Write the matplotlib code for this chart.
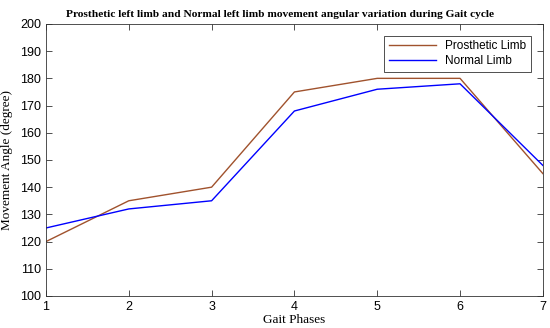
import matplotlib
matplotlib.use("Agg")
import matplotlib.pyplot as plt

phases = [1, 2, 3, 4, 5, 6, 7]
prosthetic = [120, 135, 140, 175, 180, 180, 145]
normal = [125, 132, 135, 168, 176, 178, 148]

fig = plt.figure(figsize=(5.5, 3.28), dpi=100)
ax = fig.add_axes([0.0836, 0.0976, 0.9034, 0.8294])
ax.plot(phases, prosthetic, color="#A0522D", lw=1.0, label="Prosthetic Limb")
ax.plot(phases, normal, color="#0000FF", lw=1.0, label="Normal Limb")
ax.set_xlim(1, 7)
ax.set_ylim(100, 200)
ax.set_xticks(phases)
ax.set_yticks(range(100, 201, 10))
ax.tick_params(direction="in", top=True, right=True, labelsize=9, length=4, width=0.6, color="#333333")
for lab in ax.get_xticklabels() + ax.get_yticklabels():
    lab.set_fontfamily("Liberation Sans")
for s in ax.spines.values():
    s.set_linewidth(0.6)
    s.set_color("#333333")
ax.set_xlabel("Gait Phases", fontfamily="Liberation Serif", fontsize=9.5, labelpad=1)
ax.set_ylabel("Movement Angle (degree)", fontfamily="Liberation Serif", fontsize=9.5, labelpad=5)
ax.set_title("Prosthetic left limb and Normal left limb movement angular variation during Gait cycle",
             fontfamily="Liberation Serif", fontweight="bold", fontsize=8.2, pad=5, x=0.47)
leg = ax.legend(loc="upper right", prop={"family": "Liberation Sans", "size": 8.5},
                fancybox=False, framealpha=1, edgecolor="#333333",
                borderaxespad=1.0, handlelength=4, labelspacing=0.2)
leg.get_frame().set_linewidth(0.6)
fig.savefig("out.png", dpi=100)
